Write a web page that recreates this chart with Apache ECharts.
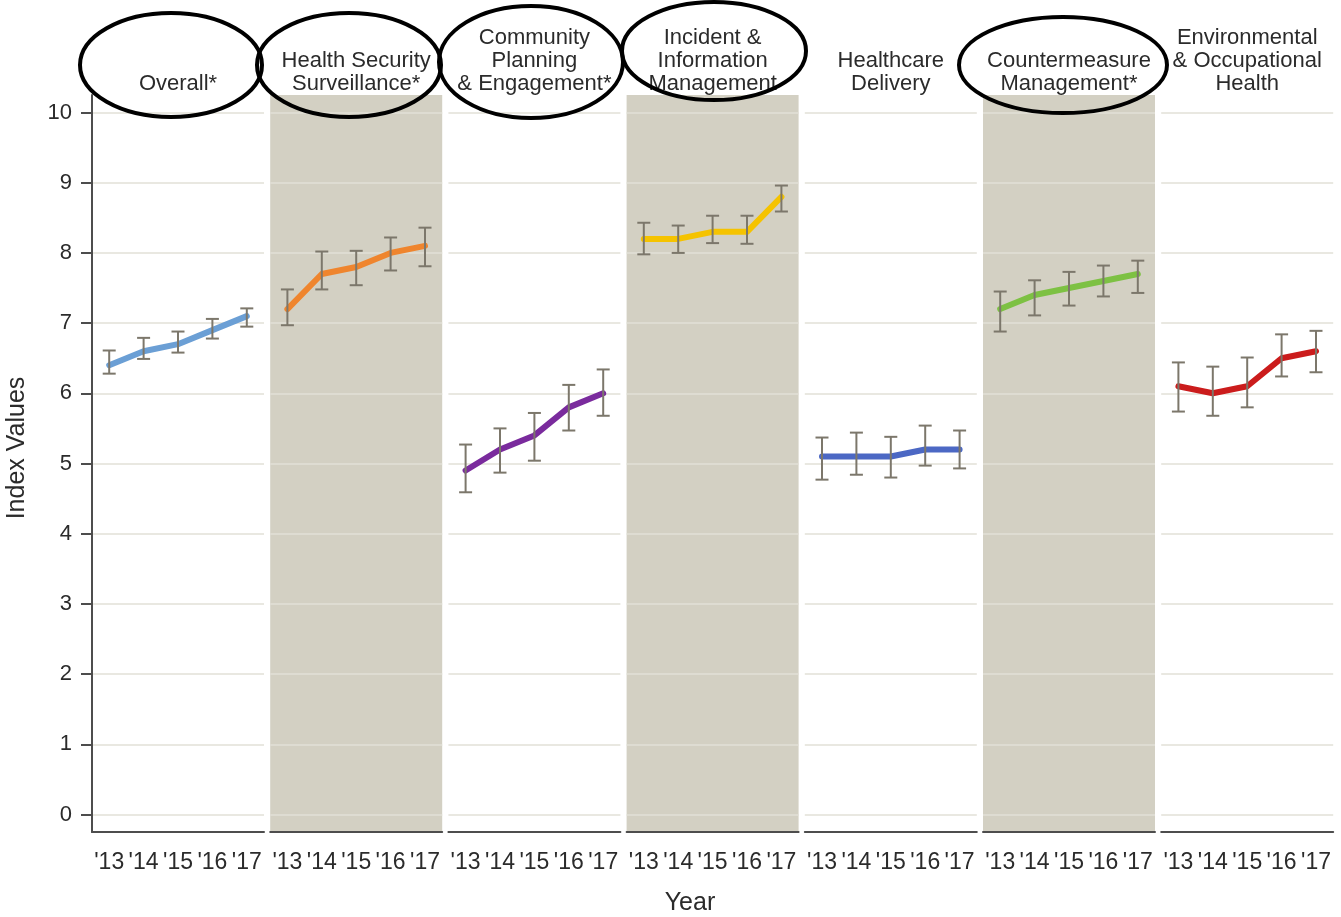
<!DOCTYPE html>
<html>
<head>
<meta charset="utf-8">
<title>Index values by domain</title>
<script src="https://cdn.jsdelivr.net/npm/echarts@6/dist/echarts.min.js"></script>
<style>
html,body{margin:0;padding:0;background:#fff;}
#main{width:1341px;height:917px;}
</style>
</head>
<body>
<div id="main"></div>
<script>
// data
var years = ["'13", "'14", "'15", "'16", "'17"];
var domains = ['Overall*', 'Health Security\nSurveillance*', 'Community\nPlanning\n& Engagement*',
	'Incident &\nInformation\nManagement', 'Healthcare\nDelivery', 'Countermeasure\nManagement*',
	'Environmental\n& Occupational\nHealth'];

var overallVal = [6.4, 6.6, 6.7, 6.9, 7.1];
var overallLow = [6.28, 6.49, 6.58, 6.78, 6.95];
var overallHigh = [6.61, 6.79, 6.88, 7.06, 7.21];

var survVal = [7.2, 7.7, 7.8, 8.0, 8.1];
var survLow = [6.97, 7.48, 7.54, 7.75, 7.81];
var survHigh = [7.48, 8.02, 8.03, 8.22, 8.36];

var commVal = [4.9, 5.2, 5.4, 5.8, 6.0];
var commLow = [4.59, 4.87, 5.04, 5.47, 5.68];
var commHigh = [5.27, 5.50, 5.72, 6.12, 6.34];

var incVal = [8.2, 8.2, 8.3, 8.3, 8.8];
var incLow = [7.98, 8.00, 8.14, 8.13, 8.59];
var incHigh = [8.43, 8.39, 8.53, 8.53, 8.96];

var careVal = [5.1, 5.1, 5.1, 5.2, 5.2];
var careLow = [4.77, 4.84, 4.80, 4.97, 4.93];
var careHigh = [5.37, 5.44, 5.38, 5.54, 5.47];

var cmVal = [7.2, 7.4, 7.5, 7.6, 7.7];
var cmLow = [6.88, 7.11, 7.25, 7.38, 7.43];
var cmHigh = [7.45, 7.61, 7.73, 7.82, 7.89];

var envVal = [6.1, 6.0, 6.1, 6.5, 6.6];
var envLow = [5.74, 5.68, 5.80, 6.24, 6.30];
var envHigh = [6.44, 6.38, 6.51, 6.84, 6.89];

var yTicks = [0, 10, 1]; // min, max, step

// styles
var vals = [overallVal, survVal, commVal, incVal, careVal, cmVal, envVal];
var lows = [overallLow, survLow, commLow, incLow, careLow, cmLow, envLow];
var highs = [overallHigh, survHigh, commHigh, incHigh, careHigh, cmHigh, envHigh];
var lineColors = ['#6b9fd5', '#ef852e', '#7a2b9d', '#f5c300', '#4c68c4', '#7dc143', '#cb1c1c'];
var shaded = [false, true, false, true, false, true, false];
var circled = [
	{cx: 171, cy: 65, rx: 91, ry: 52},
	{cx: 349, cy: 65, rx: 92, ry: 52},
	{cx: 531, cy: 62, rx: 92, ry: 56},
	{cx: 714, cy: 51, rx: 92, ry: 49},
	null,
	{cx: 1063, cy: 65, rx: 104, ry: 48},
	null
];

var FONT = '"Liberation Sans", Arial, sans-serif';
var axisColor = '#4d4d4d';
var textColor = '#2b2b2b';
var errColor = '#7c776b';

var myChart = echarts.init(document.getElementById('main'));

var plotTop = 95, plotH = 737, panelW = 172, step = 178.2, left0 = 92;
var yLo = -0.25, yHi = 10.25;
var pxPerUnit = plotH / (yHi - yLo);

var grids = [], xAxes = [], yAxes = [], series = [], graphics = [];

for (var i = 0; i < 7; i++) {
	var L = left0 + i * step;
	// outer panel: shading + x axis
	grids.push({left: L, top: plotTop, width: panelW, height: plotH,
		show: shaded[i], backgroundColor: '#d3d0c3', borderWidth: 0});
	xAxes.push({
		type: 'category', gridIndex: i, data: years, boundaryGap: true, position: 'bottom',
		axisLine: {onZero: false, lineStyle: {color: axisColor, width: 2}},
		axisTick: {alignWithLabel: true, length: 9, lineStyle: {color: axisColor, width: 2}},
		axisLabel: {interval: 0, fontSize: 23, color: textColor, margin: 19, fontFamily: FONT},
		splitLine: {show: false}
	});
	yAxes.push({
		type: 'value', gridIndex: i, min: yLo, max: yHi, show: i === 0,
		axisLine: {show: true, onZero: false, lineStyle: {color: axisColor, width: 2}},
		axisTick: {show: false}, axisLabel: {show: false}, splitLine: {show: false}
	});
}
for (var i = 0; i < 7; i++) {
	var L = left0 + i * step;
	// inner panel: 0..10 scale, data
	grids.push({left: L, top: plotTop + (yHi - yTicks[1]) * pxPerUnit, width: panelW,
		height: (yTicks[1] - yTicks[0]) * pxPerUnit});
	xAxes.push({type: 'category', gridIndex: 7 + i, data: years, boundaryGap: true, show: false});
	yAxes.push({
		type: 'value', gridIndex: 7 + i, min: yTicks[0], max: yTicks[1], interval: yTicks[2],
		axisLine: {show: false},
		axisTick: {show: i === 0, length: 11, lineStyle: {color: axisColor, width: 2}},
		axisLabel: {show: i === 0, fontSize: 22, color: textColor, margin: 20, fontFamily: FONT},
		splitLine: {show: true, lineStyle: {color: '#e2e0d7', width: 1.5}}
	});

	series.push({
		type: 'line', xAxisIndex: 7 + i, yAxisIndex: 7 + i, data: vals[i],
		symbol: 'none', smooth: false, z: 3,
		lineStyle: {color: lineColors[i], width: 6, cap: 'round', join: 'round'}
	});

	var errData = [];
	for (var k = 0; k < years.length; k++) {
		errData.push([k, lows[i][k], highs[i][k]]);
	}
	series.push({
		type: 'custom', xAxisIndex: 7 + i, yAxisIndex: 7 + i, data: errData, z: 4,
		renderItem: function (params, api) {
			var lo = api.coord([api.value(0), api.value(1)]);
			var hi = api.coord([api.value(0), api.value(2)]);
			var w = 6.5;
			var st = {stroke: errColor, lineWidth: 2};
			return {
				type: 'group',
				children: [
					{type: 'line', shape: {x1: lo[0], y1: lo[1], x2: hi[0], y2: hi[1]}, style: st},
					{type: 'line', shape: {x1: lo[0] - w, y1: lo[1], x2: lo[0] + w, y2: lo[1]}, style: st},
					{type: 'line', shape: {x1: hi[0] - w, y1: hi[1], x2: hi[0] + w, y2: hi[1]}, style: st}
				]
			};
		}
	});

	// panel title
	graphics.push({
		type: 'text', x: L + panelW / 2, y: 95, z: 50,
		style: {text: domains[i], fill: textColor, font: '22px ' + FONT,
			textAlign: 'center', textVerticalAlign: 'bottom', lineHeight: 23}
	});
	if (circled[i]) {
		graphics.push({
			type: 'ellipse', z: 100,
			shape: circled[i],
			style: {fill: 'none', stroke: '#000', lineWidth: 4}
		});
	}
}

graphics.push({
	type: 'text', x: 17, y: 448, rotation: Math.PI / 2, z: 50,
	style: {text: 'Index Values', fill: textColor, font: '25px ' + FONT,
		textAlign: 'center', textVerticalAlign: 'middle'}
});
graphics.push({
	type: 'text', x: 690, y: 903, z: 50,
	style: {text: 'Year', fill: textColor, font: '25px ' + FONT,
		textAlign: 'center', textVerticalAlign: 'middle'}
});

var option = {
	backgroundColor: '#ffffff',
	animation: false,
	grid: grids,
	xAxis: xAxes,
	yAxis: yAxes,
	series: series,
	graphic: graphics
};
myChart.setOption(option);
</script>
</body>
</html>
